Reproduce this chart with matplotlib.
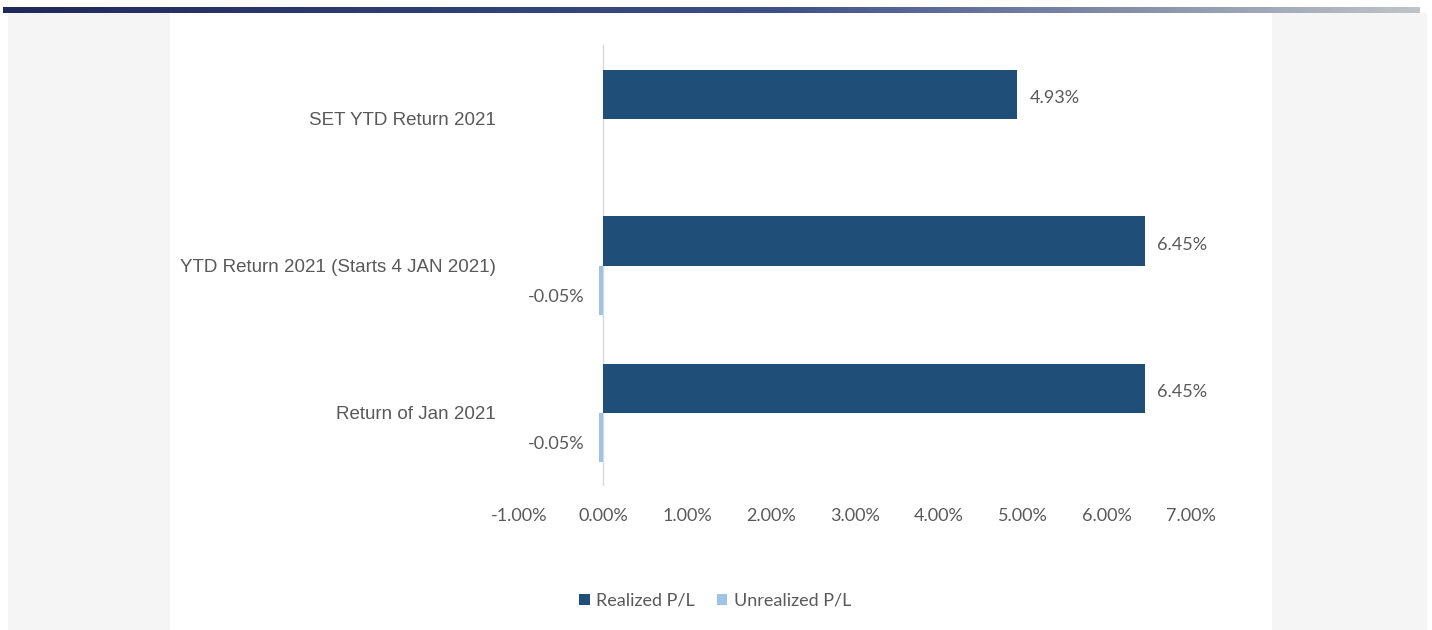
import matplotlib
matplotlib.use("Agg")
import matplotlib.pyplot as plt
import numpy as np
from matplotlib.patches import Rectangle

categories = ["Return of Jan 2021", "YTD Return 2021 (Starts 4 JAN 2021)", "SET YTD Return 2021"]
realized = [6.45, 6.45, 4.93]
unrealized = [-0.05, -0.05, None]
xticks = [-1, 0, 1, 2, 3, 4, 5, 6, 7]
series_names = ["Realized P/L", "Unrealized P/L"]

W, H = 1432, 630
fig = plt.figure(figsize=(W / 100, H / 100), dpi=100)
fig.patch.set_facecolor("white")

# side panels
fig.patches.append(Rectangle((8 / W, 0), (170 - 8) / W, (H - 13) / H, transform=fig.transFigure,
                             facecolor="#f5f5f5", edgecolor="none", zorder=-5))
fig.patches.append(Rectangle((1272 / W, 0), (1427 - 1272) / W, (H - 13) / H, transform=fig.transFigure,
                             facecolor="#f5f5f5", edgecolor="none", zorder=-5))

# top gradient bar
gax = fig.add_axes([3 / W, (H - 13) / H, (1420 - 3) / W, 6 / H])
t = np.linspace(0, 1, 512)
c0 = np.array([31, 42, 88]) / 255
c1 = np.array([62, 80, 135]) / 255
c2 = np.array([192, 196, 200]) / 255
cols = np.where(t[:, None] < 0.55, c0 + (c1 - c0) * (t[:, None] / 0.55),
                c1 + (c2 - c1) * ((t[:, None] - 0.55) / 0.45))
gax.imshow(cols[None, :, :], aspect="auto", extent=[0, 1, 0, 1])
gax.axis("off")

left, right = 519 / W, 1191 / W
bottom, top = (H - 486) / H, (H - 45) / H
ax = fig.add_axes([left, bottom, right - left, top - bottom])
ax.set_xlim(-1, 7)
ax.set_ylim(-0.5, 2.5)

y = np.arange(len(categories))
bh = 1 / 3
dark = "#1f4e79"
light = "#9dc3e6"
ax.barh(y + bh / 2, realized, height=bh, color=dark, label=series_names[0], zorder=2)
u_vals = [v if v is not None else 0 for v in unrealized]
ax.barh(y - bh / 2, u_vals, height=bh, color=light, label=series_names[1], zorder=2)

ax.axvline(0, color="#d9d9d9", lw=1, zorder=1)

lblfont = dict(family="Lato", size=13, color="#595959")
for yi, v in zip(y, realized):
    ax.annotate(f"{v:.2f}%", (v, yi + bh / 2), xytext=(9, -3), textcoords="offset points",
                ha="left", va="center", **lblfont)
for yi, v in zip(y, unrealized):
    if v is None:
        continue
    ax.annotate(f"{v:.2f}%", (v, yi - bh / 2), xytext=(-10, -5), textcoords="offset points",
                ha="right", va="center", **lblfont)

for s in ax.spines.values():
    s.set_visible(False)
ax.set_xticks(xticks)
ax.set_xticklabels([f"{v:.2f}%" for v in xticks], fontdict=dict(family="Lato", size=13, color="#595959"))
ax.tick_params(axis="x", length=0, pad=16)
ax.set_yticks(y)
ax.set_yticklabels(categories, fontdict=dict(family="Liberation Sans", size=13.5, color="#595959"))
ax.tick_params(axis="y", length=0, pad=17)
ax.set_facecolor("none")

leg = fig.legend(handles=ax.get_legend_handles_labels()[0], labels=series_names,
                 loc="center", bbox_to_anchor=(715 / W, (H - 601) / H), ncol=2, frameon=False,
                 prop=dict(family="Lato", size=13), handlelength=0.6, handleheight=0.6,
                 handletextpad=0.35, columnspacing=1.2, labelcolor="#595959")

fig.savefig("out.png", dpi=100)
